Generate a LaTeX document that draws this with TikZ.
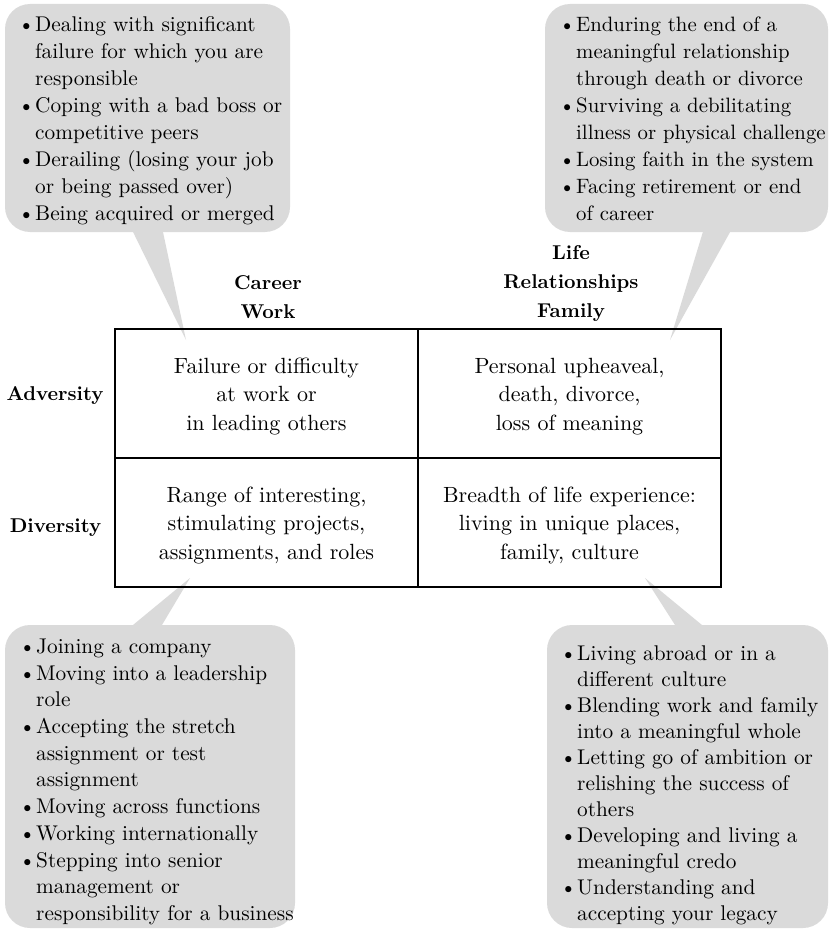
\documentclass[tikz,border=0pt]{standalone}
\usepackage{fontspec}
\newfontfamily\bodyfont{lmroman10-regular.otf}
\newfontfamily\headfont{lmroman10-bold.otf}
\definecolor{boxgray}{RGB}{218,218,218}
\newcommand\bu{\makebox[17pt][l]{\textbullet}}
\newcommand\ind{\hspace*{17pt}}
\begin{document}
\begin{tikzpicture}[x=1pt,y=-1pt,
  callout/.style={fill=boxgray},
  calloutbox/.style={fill=boxgray, rounded corners=25pt},
  bultext/.style={anchor=north west, inner sep=0pt, align=left, font=\bodyfont\fontsize{21.3}{27}\selectfont},
  cell/.style={draw, line width=1.5pt, minimum width=303pt, minimum height=129pt, inner sep=0pt},
  celltext/.style={anchor=north, inner sep=0pt, align=center, font=\bodyfont\fontsize{22}{28.5}\selectfont},
  head/.style={inner sep=0pt, align=center, font=\headfont\fontsize{20}{29}\selectfont},
]
\useasboundingbox (0,0) rectangle (831,931);

% callout boxes
\fill[calloutbox] (5,4) rectangle (290,232);
\fill[calloutbox] (545,4) rectangle (828,232);
\fill[calloutbox] (5,625) rectangle (295,928);
\fill[calloutbox] (547,625) rectangle (828,928);

% tail tips
\coordinate (tlt) at (186,340);
\coordinate (trt) at (670,340);
\coordinate (blt) at (190,578);
\coordinate (brt) at (645,578);

% tails
\fill[callout] (129.6,225) -- (tlt) -- (161.5,225) -- cycle;
\fill[callout] (705,225) -- (trt) -- (734,225) -- cycle;
\fill[callout] (124.5,632) -- (blt) -- (157.8,632) -- cycle;
\fill[callout] (679.5,632) -- (brt) -- (710.5,632) -- cycle;

% callout texts
\node[bultext] (tTL) at (18,16.2) {\bu Dealing with significant\\
\ind failure for which you are\\
\ind responsible\\
\bu Coping with a bad boss or\\
\ind competitive peers\\
\bu Derailing (losing your job\\
\ind or being passed over)\\
\bu Being acquired or merged};

\node[bultext, font=\bodyfont\fontsize{20.8}{27}\selectfont] (tTR) at (559,16.6) {\bu Enduring the end of a\\
\ind meaningful relationship\\
\ind through death or divorce\\
\bu Surviving a debilitating\\
\ind illness or physical challenge\\
\bu Losing faith in the system\\
\bu Facing retirement or end\\
\ind of career};

\node[bultext, font=\bodyfont\fontsize{21.3}{26.7}\selectfont] (tBL) at (19,638.7) {\bu Joining a company\\
\bu Moving into a leadership\\
\ind role\\
\bu Accepting the stretch\\
\ind assignment or test\\
\ind assignment\\
\bu Moving across functions\\
\bu Working internationally\\
\bu Stepping into senior\\
\ind management or\\
\ind responsibility for a business};

\node[bultext, font=\bodyfont\fontsize{21.3}{26}\selectfont] (tBR) at (560,645.2) {\bu Living abroad or in a\\
\ind different culture\\
\bu Blending work and family\\
\ind into a meaningful whole\\
\bu Letting go of ambition or\\
\ind relishing the success of\\
\ind others\\
\bu Developing and living a\\
\ind meaningful credo\\
\bu Understanding and\\
\ind accepting your legacy};

% grid cells
\node[cell] (aw) at (266.5,393.5) {};
\node[cell] (al) at (569.5,393.5) {};
\node[cell] (dw) at (266.5,522.5) {};
\node[cell] (dl) at (569.5,522.5) {};

% cell texts
\node[celltext] (taw) at (266.5,357.7) {Failure or difficulty\\at work or\\in leading others};
\node[celltext] (tal) at (569.5,357.7) {Personal upheaveal,\\death, divorce,\\loss of meaning};
\node[celltext] (tdw) at (266.5,486.7) {Range of interesting,\\stimulating projects,\\assignments, and roles};
\node[celltext] (tdl) at (569.5,486.7) {Breadth of life experience:\\living in unique places,\\family, culture};

% headers
\node[head, anchor=north] (hw) at (268,275.3) {Career\\Work};
\node[head, anchor=north] (hl) at (571,245.2) {Life\\Relationships\\Family};
\node[head, anchor=base] (ra) at (55,400) {Adversity};
\node[head, anchor=base] (rd) at (55.5,532) {Diversity};
\end{tikzpicture}
\end{document}
